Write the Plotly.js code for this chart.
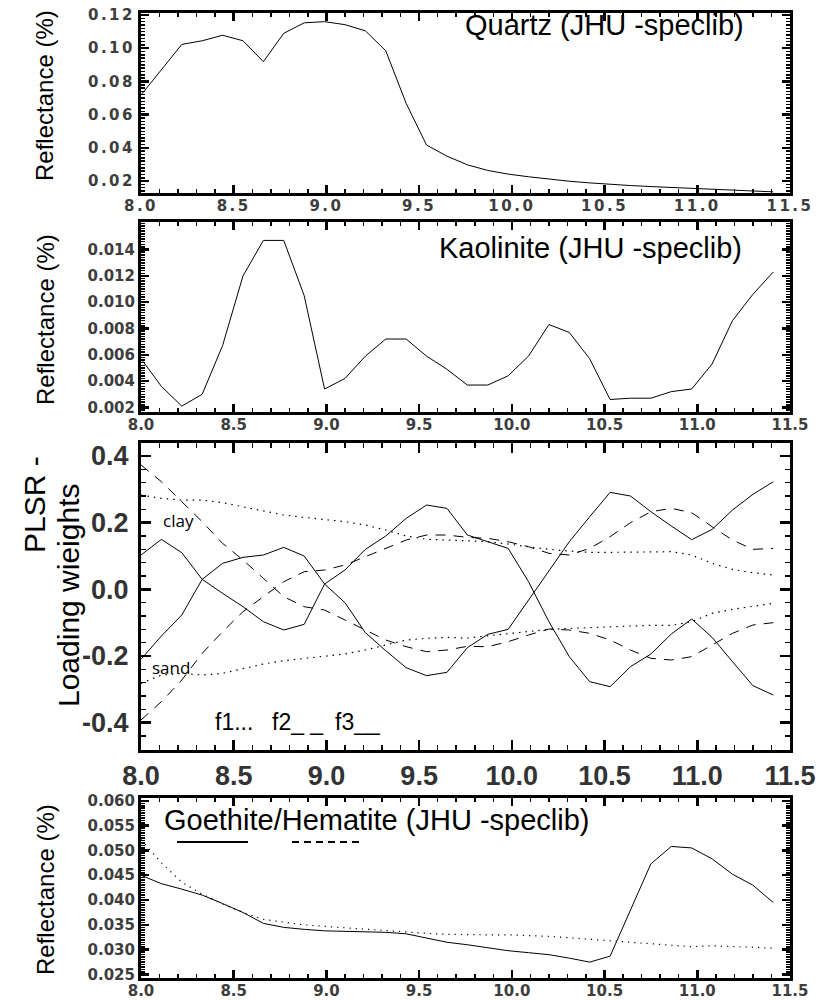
<!DOCTYPE html>
<html>
<head>
<meta charset="utf-8">
<script src="https://cdn.plot.ly/plotly-3.0.1.min.js"></script>
<style>
html,body{margin:0;padding:0;background:#fff;}
.subplot.xy .xtick text, .subplot.xy .ytick text,
.subplot.x2y2 .xtick text, .subplot.x2y2 .ytick text,
.subplot.x4y4 .xtick text, .subplot.x4y4 .ytick text { letter-spacing: 2.5px; }
</style>
</head>
<body>
<div id="chart" style="width:816px;height:1000px;"></div>
<script>
// wavelength (micrometres)
const wavelength = [8.00, 8.11, 8.22, 8.33, 8.44, 8.55, 8.66, 8.77, 8.88, 8.99, 9.10, 9.21, 9.32, 9.43, 9.54, 9.65,
                    9.76, 9.87, 9.98, 10.09, 10.20, 10.31, 10.42, 10.53, 10.64, 10.75, 10.86, 10.97, 11.08, 11.19, 11.30, 11.41];

// Panel 1: Quartz reflectance
const quartz = [0.0718, 0.0870, 0.1023, 0.1045, 0.1078, 0.1045, 0.0919, 0.1090, 0.1153, 0.1160, 0.1142, 0.1105, 0.0985, 0.0668, 0.0417, 0.0350,
                0.0298, 0.0264, 0.0242, 0.0226, 0.0211, 0.0199, 0.0189, 0.0180, 0.0173, 0.0167, 0.0162, 0.0157, 0.0152, 0.0147, 0.0142, 0.0135];

// Panel 2: Kaolinite reflectance
const kaolinite = [0.0057, 0.0036, 0.0021, 0.0030, 0.0067, 0.0120, 0.0147, 0.0147, 0.0105, 0.0034, 0.0042, 0.0059, 0.0072, 0.0072, 0.0059, 0.0049,
                   0.0037, 0.0037, 0.0044, 0.0059, 0.0083, 0.0077, 0.0057, 0.0026, 0.0027, 0.0027, 0.0032, 0.0034, 0.0053, 0.0086, 0.0106, 0.0123];

// Panel 3: PLSR loading weights (f1 dotted, f2 dashed, f3 solid)
const clayF1 = [0.283, 0.273, 0.268, 0.268, 0.260, 0.248, 0.236, 0.223, 0.216, 0.210, 0.203, 0.193, 0.178, 0.160, 0.150, 0.148,
                0.145, 0.143, 0.136, 0.128, 0.120, 0.115, 0.111, 0.111, 0.111, 0.112, 0.113, 0.103, 0.078, 0.060, 0.050, 0.043];
const sandF1 = [-0.282, -0.257, -0.252, -0.257, -0.252, -0.237, -0.224, -0.214, -0.207, -0.202, -0.194, -0.182, -0.167, -0.152, -0.147, -0.144,
                -0.146, -0.140, -0.134, -0.127, -0.120, -0.117, -0.114, -0.112, -0.110, -0.108, -0.108, -0.097, -0.072, -0.060, -0.050, -0.042];
const clayF2 = [0.373, 0.323, 0.263, 0.203, 0.138, 0.088, 0.033, -0.022, -0.052, -0.062, -0.092, -0.122, -0.152, -0.172, -0.187, -0.182,
                -0.171, -0.172, -0.157, -0.137, -0.119, -0.122, -0.132, -0.152, -0.182, -0.207, -0.212, -0.202, -0.167, -0.132, -0.107, -0.100];
const sandF2 = [-0.392, -0.337, -0.272, -0.192, -0.127, -0.067, -0.022, 0.023, 0.053, 0.058, 0.073, 0.098, 0.123, 0.148, 0.163, 0.163,
                0.156, 0.153, 0.143, 0.128, 0.108, 0.103, 0.123, 0.158, 0.200, 0.233, 0.243, 0.230, 0.188, 0.148, 0.120, 0.123];
const clayF3 = [0.103, 0.150, 0.110, 0.030, -0.012, -0.052, -0.097, -0.122, -0.105, 0.016, -0.040, -0.130, -0.184, -0.235, -0.259, -0.249,
                -0.175, -0.135, -0.120, -0.032, 0.055, 0.143, 0.218, 0.291, 0.280, 0.233, 0.190, 0.149, 0.180, 0.238, 0.285, 0.323];
const sandF3 = [-0.210, -0.140, -0.077, 0.030, 0.078, 0.096, 0.103, 0.126, 0.100, 0.016, 0.058, 0.120, 0.160, 0.213, 0.253, 0.243,
                0.163, 0.143, 0.123, 0.023, -0.097, -0.202, -0.277, -0.292, -0.232, -0.194, -0.134, -0.089, -0.144, -0.217, -0.289, -0.317];

// Panel 4: Goethite (solid) / Hematite (dotted)
const goethite = [0.0450, 0.0433, 0.0422, 0.0410, 0.0393, 0.0375, 0.0353, 0.0345, 0.0341, 0.0338, 0.0337, 0.0336, 0.0335, 0.0332, 0.0323, 0.0315,
                  0.0310, 0.0304, 0.0298, 0.0294, 0.0290, 0.0283, 0.0275, 0.0287, 0.0380, 0.0473, 0.0508, 0.0505, 0.0483, 0.0452, 0.0430, 0.0395];
const hematite = [0.0522, 0.0475, 0.0436, 0.0412, 0.0392, 0.0375, 0.0361, 0.0355, 0.0350, 0.0347, 0.0344, 0.0341, 0.0338, 0.0335, 0.0333, 0.0331,
                  0.0330, 0.0330, 0.0330, 0.0329, 0.0327, 0.0324, 0.0321, 0.0318, 0.0315, 0.0312, 0.0309, 0.0306, 0.0308, 0.0307, 0.0305, 0.0303];

// Tick values / labels
const xTickVals = [8.0, 8.5, 9.0, 9.5, 10.0, 10.5, 11.0, 11.5];
const xTickText = ['8.0', '8.5', '9.0', '9.5', '10.0', '10.5', '11.0', '11.5'];
const qTickVals = [0.02, 0.04, 0.06, 0.08, 0.10, 0.12];
const qTickText = ['0.02', '0.04', '0.06', '0.08', '0.10', '0.12'];
const kTickVals = [0.002, 0.004, 0.006, 0.008, 0.010, 0.012, 0.014];
const kTickText = ['0.002', '0.004', '0.006', '0.008', '0.010', '0.012', '0.014'];
const pTickVals = [-0.4, -0.2, 0.0, 0.2, 0.4];
const pTickText = ['-0.4', '-0.2', '0.0', '0.2', '0.4'];
const gTickVals = [0.025, 0.030, 0.035, 0.040, 0.045, 0.050, 0.055, 0.060];
const gTickText = ['0.025', '0.030', '0.035', '0.040', '0.045', '0.050', '0.055', '0.060'];

const XD = [0.1728, 0.9681];
const smallTick = {family: 'DejaVu Sans, Arial, sans-serif', size: 15, color: '#3d3d3d', weight: 'bold'};
const bigTick = {family: 'Liberation Sans, Arial, sans-serif', size: 27, color: '#333', weight: 'bold'};

function xax(anchor, font, big) {
  return {
    domain: XD, anchor: anchor, range: [8, 11.5],
    tickmode: 'array', tickvals: xTickVals, ticktext: xTickText,
    ticks: 'inside', ticklen: big ? 10 : 8, tickwidth: 2.5, tickcolor: '#000',
    minor: {tickmode: 'linear', tick0: 8, dtick: 0.1, ticks: 'inside', ticklen: big ? 5 : 4, tickwidth: 1.5, tickcolor: '#000'},
    showline: true, linewidth: 3, linecolor: '#000', mirror: 'ticks',
    showgrid: false, zeroline: false, tickfont: font, ticklabelstandoff: big ? 0 : -3
  };
}
function yax(anchor, domain, range, vals, text, minorD, font, big) {
  return {
    domain: domain, anchor: anchor, range: range,
    tickmode: 'array', tickvals: vals, ticktext: text,
    ticks: 'inside', ticklen: big ? 10 : 8, tickwidth: 2.5, tickcolor: '#000',
    minor: {tickmode: 'linear', tick0: 0, dtick: minorD, ticks: 'inside', ticklen: big ? 5 : 4, tickwidth: 1.5, tickcolor: '#000'},
    showline: true, linewidth: 3, linecolor: '#000', mirror: 'ticks',
    showgrid: false, zeroline: false, tickfont: font, ticklabelstandoff: big ? 4 : 0
  };
}

const solid = {color: '#000', width: 1};
const dotted = {color: '#000', width: 1.2, dash: '1.5px,5px'};
const dashed = {color: '#000', width: 1, dash: '10px,8px'};

const traces = [
  {x: wavelength, y: quartz, xaxis: 'x', yaxis: 'y', mode: 'lines', line: solid, name: 'Quartz'},
  {x: wavelength, y: kaolinite, xaxis: 'x2', yaxis: 'y2', mode: 'lines', line: solid, name: 'Kaolinite'},
  {x: wavelength, y: clayF1, xaxis: 'x3', yaxis: 'y3', mode: 'lines', line: dotted, name: 'clay f1'},
  {x: wavelength, y: sandF1, xaxis: 'x3', yaxis: 'y3', mode: 'lines', line: dotted, name: 'sand f1'},
  {x: wavelength, y: clayF2, xaxis: 'x3', yaxis: 'y3', mode: 'lines', line: dashed, name: 'clay f2'},
  {x: wavelength, y: sandF2, xaxis: 'x3', yaxis: 'y3', mode: 'lines', line: dashed, name: 'sand f2'},
  {x: wavelength, y: clayF3, xaxis: 'x3', yaxis: 'y3', mode: 'lines', line: solid, name: 'clay f3'},
  {x: wavelength, y: sandF3, xaxis: 'x3', yaxis: 'y3', mode: 'lines', line: solid, name: 'sand f3'},
  {x: wavelength, y: hematite, xaxis: 'x4', yaxis: 'y4', mode: 'lines', line: {color: '#000', width: 1.2, dash: '1.2px,5px'}, name: 'Hematite'},
  {x: wavelength, y: goethite, xaxis: 'x4', yaxis: 'y4', mode: 'lines', line: solid, name: 'Goethite'}
];

const titleFont = {family: 'Liberation Sans, Arial, sans-serif', size: 29, color: '#000'};
const yTitleFont = {family: 'Liberation Sans, Arial, sans-serif', size: 24, color: '#000'};
const plsrFont = {family: 'Liberation Sans, Arial, sans-serif', size: 30, color: '#000'};
const labFont = {family: 'Open Sans, DejaVu Sans, sans-serif', size: 17, color: '#000'};
const fFont = {family: 'Liberation Sans, Arial, sans-serif', size: 23, color: '#000'};

function ann(text, x, y, font, xanchor, angle) {
  return {text: text, x: x / 816, y: 1 - y / 1000, xref: 'paper', yref: 'paper', showarrow: false,
          xanchor: xanchor || 'center', yanchor: 'middle', font: font, textangle: angle || 0};
}

const layout = {
  width: 816, height: 1000,
  margin: {l: 0, r: 0, t: 0, b: 0},
  paper_bgcolor: '#fff', plot_bgcolor: '#fff', showlegend: false,
  xaxis: xax('y', smallTick, false),
  yaxis: yax('x', [0.8073, 0.9873], [0.013, 0.1214], qTickVals, qTickText, 0.002, smallTick, false),
  xaxis2: xax('y2', smallTick, false),
  yaxis2: yax('x2', [0.588, 0.778], [0.00165, 0.0161], kTickVals, kTickText, 0.0002, smallTick, false),
  xaxis3: xax('y3', bigTick, true),
  yaxis3: yax('x3', [0.25, 0.5573], [-0.482, 0.44], pTickVals, pTickText, 0.04, bigTick, true),
  xaxis4: xax('y4', smallTick, false),
  yaxis4: yax('x4', [0.022, 0.2017], [0.0243, 0.0605], gTickVals, gTickText, 0.0005, smallTick, false),
  annotations: [
    ann('Quartz (JHU -speclib)', 746, 25, titleFont, 'right'),
    ann('Kaolinite (JHU -speclib)', 744, 248, titleFont, 'right'),
    ann('Goethite/Hematite (JHU -speclib)', 162, 820, titleFont, 'left'),
    ann('Reflectance (%)', 45, 96, yTitleFont, 'center', -90),
    ann('Reflectance (%)', 45, 320, yTitleFont, 'center', -90),
    ann('Reflectance (%)', 45, 890, yTitleFont, 'center', -90),
    ann('PLSR -', 34, 505, plsrFont, 'center', -90),
    ann('Loading wieights', 68, 595, plsrFont, 'center', -90),
    ann('clay', 161, 520, labFont, 'left'),
    ann('sand', 150, 667, labFont, 'left'),
    ann('f1...', 213, 722, fFont, 'left'),
    ann('f2_ _', 270, 722, fFont, 'left'),
    ann('f3__', 333, 722, fFont, 'left')
  ],
  shapes: [
    {type: 'line', xref: 'paper', yref: 'paper', x0: 177 / 816, x1: 248 / 816, y0: 1 - 842 / 1000, y1: 1 - 842 / 1000,
     line: {color: '#000', width: 2}},
    {type: 'line', xref: 'paper', yref: 'paper', x0: 292 / 816, x1: 360 / 816, y0: 1 - 842 / 1000, y1: 1 - 842 / 1000,
     line: {color: '#000', width: 2, dash: '7px,5px'}}
  ]
};

Plotly.newPlot('chart', traces, layout, {staticPlot: true, displayModeBar: false});
</script>
</body>
</html>
